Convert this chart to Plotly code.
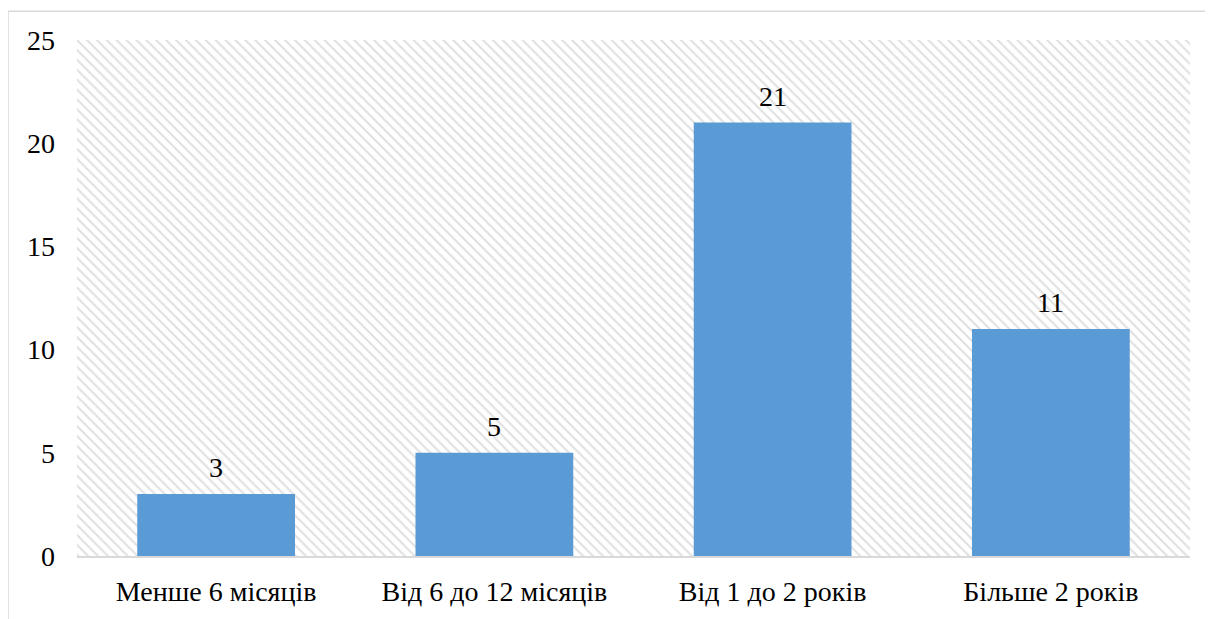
import plotly.graph_objects as go

categories = ["Менше 6 місяців", "Від 6 до 12 місяців", "Від 1 до 2 років", "Більше 2 років"]
values = [3, 5, 21, 11]
y_ticks = [0, 5, 10, 15, 20, 25]
y_max = 25

FONT = "Liberation Serif, Times New Roman, serif"

fig = go.Figure()

# hatched plot-area background (on hidden numeric axis)
fig.add_trace(go.Bar(
    x=[0.5], y=[y_max], width=[1], xaxis="x", yaxis="y",
    marker=dict(color="white", line=dict(width=0),
                pattern=dict(shape="\\", size=7, solidity=0.28,
                             fgcolor="#e0e0e0", bgcolor="white", fillmode="replace")),
    hoverinfo="skip", showlegend=False,
))

fig.add_trace(go.Bar(
    x=categories, y=values, xaxis="x2", yaxis="y",
    marker=dict(color="#5B9BD5", line=dict(width=0)),
    hoverinfo="x+y", showlegend=False,
))

annotations = [
    dict(x=c, y=v, xref="x2", yref="y", text=str(v), showarrow=False,
         yanchor="bottom", yshift=9,
         font=dict(family=FONT, size=28, color="black"))
    for c, v in zip(categories, values)
]

fig.update_layout(
    width=1205, height=611,
    margin=dict(l=69, r=23, t=32, b=58),
    paper_bgcolor="white", plot_bgcolor="white",
    font=dict(family=FONT, size=28, color="black"),
    bargap=0.433,
    xaxis=dict(range=[0, 1], visible=False, fixedrange=True),
    xaxis2=dict(overlaying="x", side="bottom", type="category",
                showline=True, linecolor="#d9d9d9", linewidth=1.5,
                showgrid=False, ticks="", ticklabelstandoff=10,
                tickfont=dict(family=FONT, size=28, color="black")),
    yaxis=dict(range=[0, y_max], tickvals=y_ticks, showgrid=False, zeroline=False,
               showline=False, ticks="", ticklabelstandoff=21,
               tickfont=dict(family=FONT, size=28, color="black")),
    annotations=annotations,
    shapes=[dict(type="rect", xref="paper", yref="paper",
                 x0=-0.062, x1=1.2, y0=-0.3, y1=1.0557,
                 line=dict(color="#d9d9d9", width=1.5), fillcolor="rgba(0,0,0,0)",
                 layer="below")],
)

fig.write_html("out.html")
